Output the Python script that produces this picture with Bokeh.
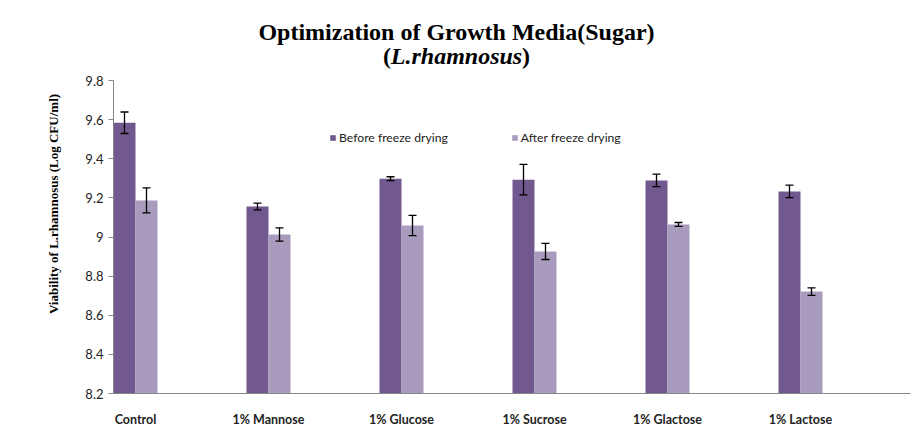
import math
from bokeh.plotting import figure
from bokeh.layouts import column, row
from bokeh.models import (ColumnDataSource, Range1d, FixedTicker, Whisker, TeeHead,
                          Label, Legend, LegendItem)
from bokeh.embed import file_html
from bokeh.resources import INLINE

# ---- data ----
categories = ["Control", "1% Mannose", "1% Glucose", "1% Sucrose", "1% Glactose", "1% Lactose"]
before = [9.584, 9.156, 9.298, 9.293, 9.289, 9.233]
before_err = [0.055, 0.017, 0.010, 0.078, 0.032, 0.032]
after = [9.187, 9.013, 9.059, 8.926, 9.064, 8.721]
after_err = [0.064, 0.034, 0.052, 0.041, 0.010, 0.019]
y_ticks = [8.2, 8.4, 8.6, 8.8, 9.0, 9.2, 9.4, 9.6, 9.8]
y_tick_labels = ["8.2", "8.4", "8.6", "8.8", "9", "9.2", "9.4", "9.6", "9.8"]
series_names = ["Before freeze drying", "After freeze drying"]
title_line1 = "Optimization of Growth Media(Sugar)"
title_species = "L.rhamnosus"
y_title = "Viability of L.rhamnosus (Log CFU/ml)"

BW = 0.1654
C_BEFORE = "#71588F"
C_AFTER = "#A99BBE"
TF = "Liberation Serif"
SF = "Lato"

TH = 74                 # title strip height
LW = 70                 # y-title strip width
BH = 446 - TH           # height of the lower row
B_TOP = 80 - TH         # frame top border in lower row
B_BOT = 53              # frame bottom border in lower row


def blank_fig(w, h, top=0, bottom=0):
    f = figure(width=w, height=h, output_backend="svg", toolbar_location=None,
               x_range=Range1d(0, w), y_range=Range1d(0, h - top - bottom),
               x_axis_location=None, y_axis_location=None,
               min_border=0, min_border_left=0, min_border_right=0,
               min_border_top=top, min_border_bottom=bottom)
    f.outline_line_color = None
    f.grid.visible = False
    return f


# ---- title strip ----
tfig = blank_fig(914, TH)
Y1 = TH - 44.3   # bottom of text box, line 1
Y2 = TH - 68.3   # bottom of text box, line 2
tfig.add_layout(Label(x=456, y=Y1, x_units="screen", y_units="screen",
                      text=title_line1, text_align="center", text_baseline="bottom",
                      text_font=TF, text_font_size="24px", text_font_style="bold",
                      text_color="black"))
tfig.add_layout(Label(x=456, y=Y2, x_units="screen", y_units="screen",
                      text=title_species, text_align="center", text_baseline="bottom",
                      text_font=TF, text_font_size="24px", text_font_style="bold italic",
                      text_color="black"))
tfig.add_layout(Label(x=390.5, y=Y2, x_units="screen", y_units="screen",
                      text="(", text_align="right", text_baseline="bottom",
                      text_font=TF, text_font_size="24px", text_font_style="bold",
                      text_color="black"))
tfig.add_layout(Label(x=521.5, y=Y2, x_units="screen", y_units="screen",
                      text=")", text_align="left", text_baseline="bottom",
                      text_font=TF, text_font_size="24px", text_font_style="bold",
                      text_color="black"))

# ---- y title strip (frame aligned with the chart frame) ----
lfig = blank_fig(LW, BH, top=B_TOP, bottom=B_BOT)
lfig.add_layout(Label(x=53, y=393 - 203.5, x_units="screen", y_units="screen",
                      text=y_title, angle=math.pi / 2, text_align="center",
                      text_baseline="middle", text_font=TF, text_font_size="13px",
                      text_font_style="bold", text_color="black"))

# ---- main chart ----
idx = list(range(len(categories)))
src_b = ColumnDataSource(dict(
    x=[i - BW / 2 for i in idx], top=before,
    up=[v + e for v, e in zip(before, before_err)],
    lo=[v - e for v, e in zip(before, before_err)]))
src_a = ColumnDataSource(dict(
    x=[i + BW / 2 for i in idx], top=after,
    up=[v + e for v, e in zip(after, after_err)],
    lo=[v - e for v, e in zip(after, after_err)]))

p = figure(width=914 - LW, height=BH, output_backend="svg", toolbar_location=None,
           x_range=Range1d(-BW, -BW + 797 / 133), y_range=Range1d(8.2, 9.8),
           min_border_left=113 - LW, min_border_right=4, min_border_top=B_TOP,
           min_border_bottom=B_BOT)
p.outline_line_color = None
p.grid.visible = False

rb = p.vbar(x="x", top="top", bottom=8.2, width=BW, source=src_b,
            fill_color=C_BEFORE, line_color=None)
ra = p.vbar(x="x", top="top", bottom=8.2, width=BW, source=src_a,
            fill_color=C_AFTER, line_color=None)

for s in (src_b, src_a):
    w = Whisker(source=s, base="x", upper="up", lower="lo", dimension="height",
                line_color="black", line_width=1.3,
                upper_head=TeeHead(size=8, line_color="black", line_width=1.3),
                lower_head=TeeHead(size=8, line_color="black", line_width=1.3))
    w.level = "overlay"
    p.add_layout(w)

p.yaxis.ticker = FixedTicker(ticks=y_ticks)
p.yaxis.major_label_overrides = {t: l for t, l in zip(y_ticks, y_tick_labels)}
p.yaxis.major_tick_out = 5
p.yaxis.major_tick_in = 0
p.yaxis.minor_tick_line_color = None
p.yaxis.axis_line_color = "#868686"
p.yaxis.major_tick_line_color = "#868686"
p.yaxis.major_label_text_font = SF
p.yaxis.major_label_text_font_size = "13px"
p.yaxis.major_label_text_color = "#222222"
p.yaxis.major_label_standoff = 5

p.xaxis.ticker = FixedTicker(ticks=idx)
p.xaxis.major_label_overrides = {i: c for i, c in zip(idx, categories)}
p.xaxis.major_tick_line_color = None
p.xaxis.minor_tick_line_color = None
p.xaxis.axis_line_color = "#868686"
p.xaxis.major_label_text_font = SF
p.xaxis.major_label_text_font_size = "12.5px"
p.xaxis.major_label_text_font_style = "bold"
p.xaxis.major_label_text_color = "#222222"
p.xaxis.major_label_standoff = 12

legend = Legend(items=[LegendItem(label=series_names[0], renderers=[rb]),
                       LegendItem(label=series_names[1], renderers=[ra])],
                orientation="horizontal", location=(216, 248),
                glyph_width=7, glyph_height=7, label_height=12, label_standoff=3,
                spacing=63, padding=0, margin=0,
                border_line_color=None, background_fill_alpha=0,
                label_text_font=SF, label_text_font_size="12.2px",
                label_text_color="#222222")
p.add_layout(legend)

layout = column(tfig, row(lfig, p, spacing=0), spacing=0)
open("out.html", "w").write(file_html(layout, INLINE))
